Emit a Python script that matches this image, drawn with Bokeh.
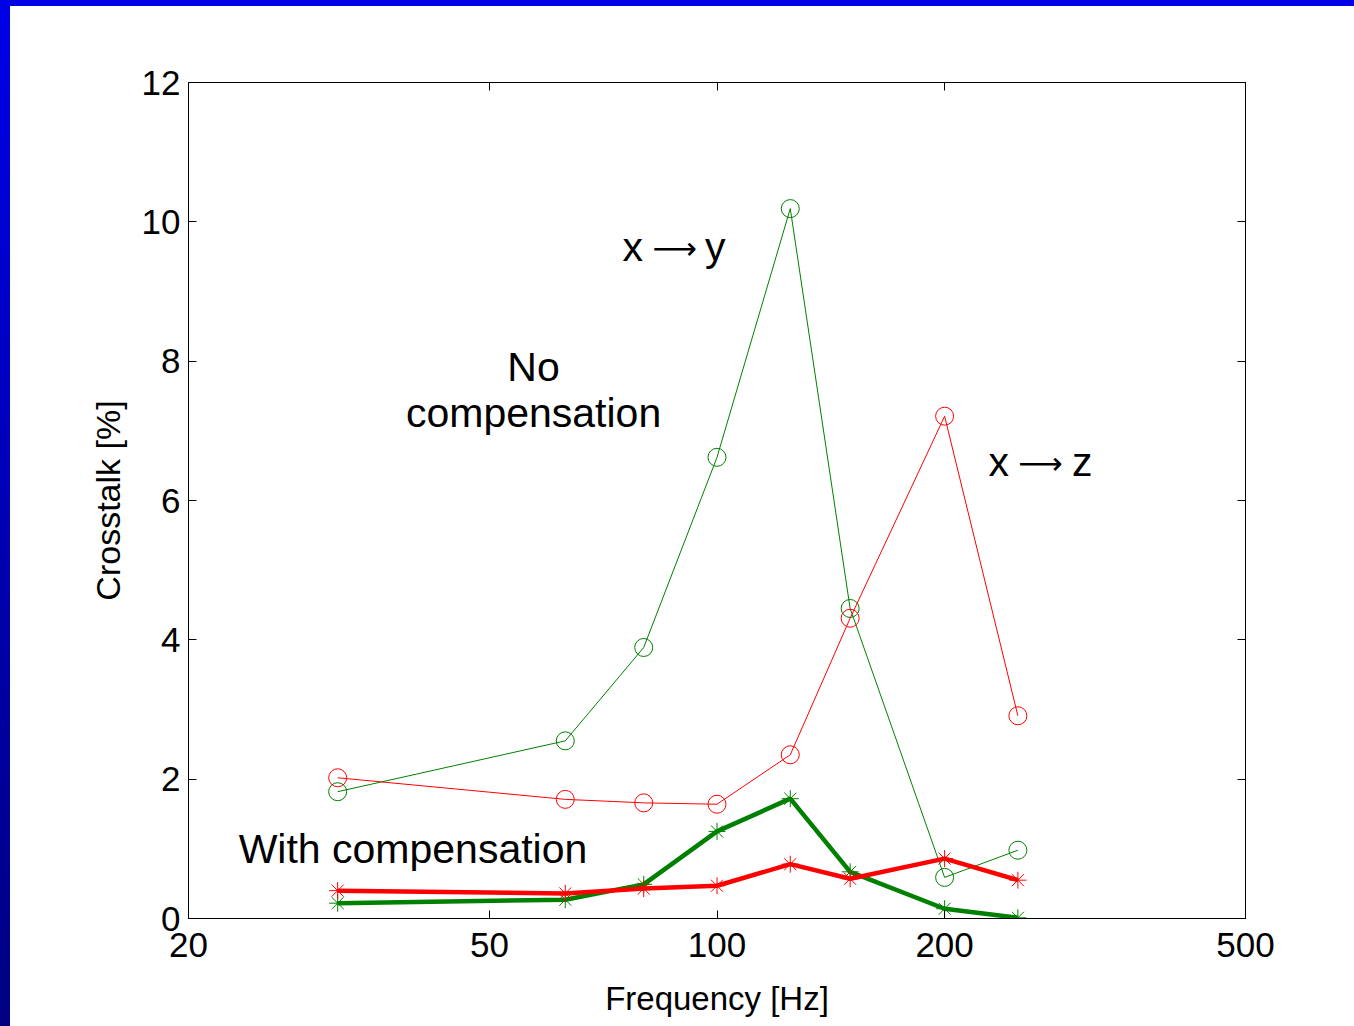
from bokeh.plotting import figure
from bokeh.models import FixedTicker, PrintfTickFormatter, LinearAxis, LogAxis, Range1d
from bokeh.core.properties import value
from bokeh.embed import file_html
from bokeh.resources import INLINE

# ---- data ----
freq = [31.5, 63, 80, 100, 125, 150, 200, 250]
xy_no_comp = [1.82, 2.55, 3.89, 6.62, 10.19, 4.45, 0.59, 0.98]
xz_no_comp = [2.02, 1.71, 1.66, 1.64, 2.35, 4.31, 7.21, 2.91]
xy_comp = [0.22, 0.27, 0.49, 1.25, 1.72, 0.67, 0.14, 0.01]
xz_comp = [0.40, 0.36, 0.43, 0.47, 0.78, 0.57, 0.86, 0.55]
x_ticks = [20, 50, 100, 200, 500]
y_ticks = [0, 2, 4, 6, 8, 10, 12]

FONT = "Liberation Sans"
GREEN = "#008000"
RED = "#ff0000"

W, H = 1354, 1026
FL, FT, FR, FB = 188, 82, 1245, 918   # frame edges in canvas pixels

slide_bg = ("linear-gradient(to bottom, #0000e6, #0000e6) left top / 100% 6px no-repeat, "
            "linear-gradient(to bottom, #0000e8, #000080) left top / 10px 100% no-repeat, "
            "white")

p = figure(
    width=W, height=H,
    x_axis_type="log",
    x_range=Range1d(20, 500), y_range=Range1d(0, 12),
    output_backend="svg", toolbar_location=None,
    min_border_left=FL, min_border_top=FT,
    min_border_right=W - FR, min_border_bottom=H - FB,
    styles={"background": slide_bg},
)
p.background_fill_color = "white"
p.border_fill_color = None
p.outline_line_color = "black"
p.outline_line_width = 1
p.xgrid.visible = False
p.ygrid.visible = False

# axes
for ax in p.xaxis:
    ax.ticker = FixedTicker(ticks=x_ticks, minor_ticks=[])
    ax.formatter = PrintfTickFormatter(format="%d")
for ax in p.yaxis:
    ax.ticker = FixedTicker(ticks=y_ticks, minor_ticks=[])

for ax in list(p.xaxis) + list(p.yaxis):
    ax.major_tick_in = 8
    ax.major_tick_out = 0
    ax.minor_tick_line_color = None
    ax.axis_line_color = "black"
    ax.major_tick_line_color = "black"
    ax.major_label_text_font = FONT
    ax.major_label_text_font_size = "35px"
    ax.major_label_text_color = "black"
    ax.axis_label_text_font = FONT
    ax.axis_label_text_font_style = "normal"
    ax.axis_label_text_color = "black"

p.xaxis.axis_label = "Frequency [Hz]"
p.yaxis.axis_label = "Crosstalk [%]"
p.xaxis.axis_label_text_font_size = "33px"
p.yaxis.axis_label_text_font_size = "34px"
p.xaxis.major_label_standoff = 14
p.yaxis.major_label_standoff = 8
p.xaxis.axis_label_standoff = 20
p.yaxis.axis_label_standoff = 12

top_ax = LogAxis(ticker=FixedTicker(ticks=x_ticks, minor_ticks=[]),
                 major_label_text_font_size="0px", major_tick_in=8, major_tick_out=0,
                 minor_tick_line_color=None, major_label_text_color=None)
right_ax = LinearAxis(ticker=FixedTicker(ticks=y_ticks, minor_ticks=[]),
                      major_label_text_font_size="0px", major_tick_in=8, major_tick_out=0,
                      minor_tick_line_color=None, major_label_text_color=None)
p.add_layout(top_ax, "above")
p.add_layout(right_ax, "right")
p.min_border_top = FT
p.min_border_right = W - FR

# no compensation (thin lines, open circles)
p.line(freq, xy_no_comp, line_color=GREEN, line_width=1)
p.scatter(freq, xy_no_comp, marker="circle", size=18, fill_color=None, line_color=GREEN, line_width=1)
p.line(freq, xz_no_comp, line_color=RED, line_width=1)
p.scatter(freq, xz_no_comp, marker="circle", size=18, fill_color=None, line_color=RED, line_width=1)

# with compensation (thick lines, asterisks)
p.line(freq, xy_comp, line_color=GREEN, line_width=4.5)
p.scatter(freq, xy_comp, marker="asterisk", size=17, line_color=GREEN, line_width=1)
p.line(freq, xz_comp, line_color=RED, line_width=4.5)
p.scatter(freq, xz_comp, marker="asterisk", size=17, line_color=RED, line_width=1)

# annotations
def label(x, y, s, align, font=FONT, size="41px"):
    p.text(x=[x], y=[y], text=[s], text_font=value(font), text_font_size=size,
           text_align=align, text_baseline="alphabetic", text_color="black")

label(57.2, 7.91, "No", "center")
label(57.2, 7.25, "compensation", "center")
label(23.3, 0.995, "With compensation", "left")
label(75.0, 9.64, "x", "left")
label(87.9, 9.63, "\u27f6", "center", font="DejaVu Sans", size="31px")
label(102.6, 9.64, "y", "right")
label(228.6, 6.55, "x", "left")
label(267.8, 6.54, "\u27f6", "center", font="DejaVu Sans", size="31px")
label(313.8, 6.55, "z", "right")

open("out.html", "w").write(file_html(p, INLINE))
